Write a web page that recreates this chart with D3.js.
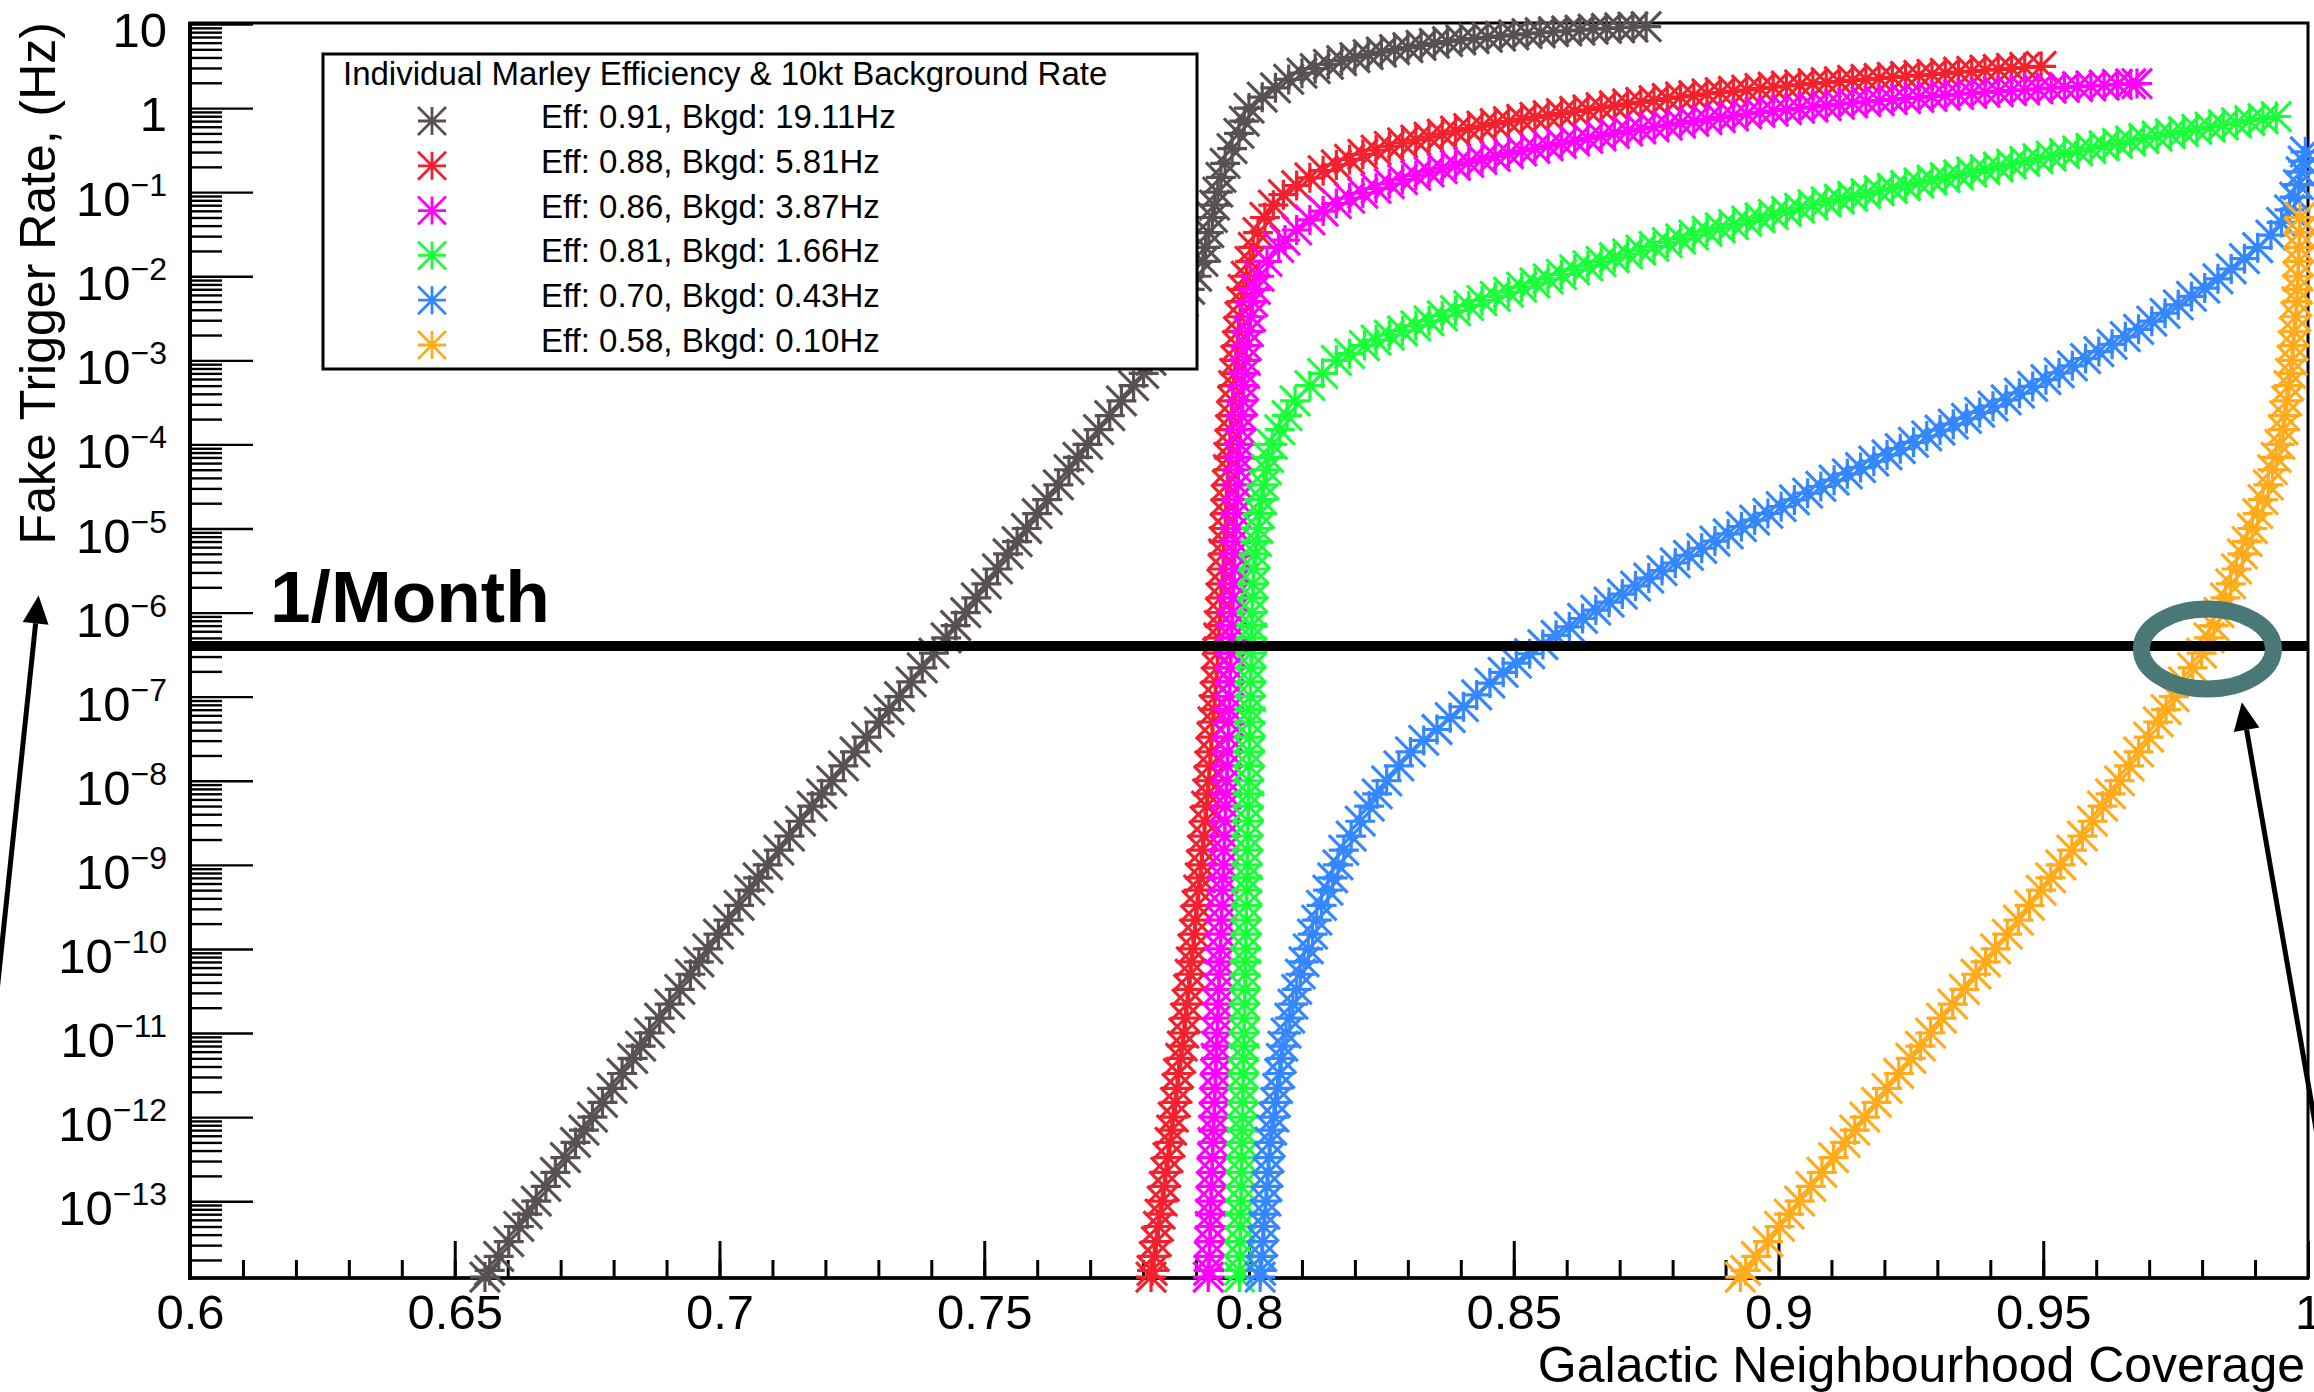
<!DOCTYPE html>
<html>
<head>
<meta charset="utf-8">
<script src="https://cdn.jsdelivr.net/npm/d3@7"></script>
<style>
  body { margin: 0; background: #fff; }
  svg { display: block; }
</style>
</head>
<body>
<div id="plot"></div>
<script>
// ---- chart values ----
const legendTitle = "Individual Marley Efficiency & 10kt Background Rate";
const seriesLabels = [
  "Eff: 0.91, Bkgd: 19.11Hz",
  "Eff: 0.88, Bkgd: 5.81Hz",
  "Eff: 0.86, Bkgd: 3.87Hz",
  "Eff: 0.81, Bkgd: 1.66Hz",
  "Eff: 0.70, Bkgd: 0.43Hz",
  "Eff: 0.58, Bkgd: 0.10Hz"
];
const seriesColors = ["#595055", "#f3212e", "#ff00ff", "#1aff3a", "#3487ff", "#ffab1c"];

const xTickValues = [0.6, 0.65, 0.7, 0.75, 0.8, 0.85, 0.9, 0.95, 1];
const xTickLabels = ["0.6", "0.65", "0.7", "0.75", "0.8", "0.85", "0.9", "0.95", "1"];
const yTickValues = [10, 1, 1e-1, 1e-2, 1e-3, 1e-4, 1e-5, 1e-6, 1e-7, 1e-8, 1e-9, 1e-10, 1e-11, 1e-12, 1e-13];
const yTickLabels = [["10", ""], ["1", ""], ["10", "\u22121"], ["10", "\u22122"], ["10", "\u22123"],
  ["10", "\u22124"], ["10", "\u22125"], ["10", "\u22126"], ["10", "\u22127"], ["10", "\u22128"],
  ["10", "\u22129"], ["10", "\u221210"], ["10", "\u221211"], ["10", "\u221212"], ["10", "\u221213"]];

const monthRate = 4.0e-7;   // "1/Month" line, Hz

// [coverage, fake trigger rate (Hz)]
const grey = [
  [0.6557,1.25e-14],[0.6566,1.5e-14],[0.6583,2.2e-14],[0.6602,3.3e-14],[0.6621,5e-14],[0.6637,7e-14],
  [0.6654,1e-13],[0.6672,1.5e-13],[0.6690,2.2e-13],[0.6709,3.3e-13],[0.6728,5e-13],[0.6744,7e-13],
  [0.6760,1e-12],[0.6779,1.5e-12],[0.6797,2.2e-12],[0.6816,3.3e-12],[0.6836,5e-12],[0.6851,7e-12],
  [0.6868,1e-11],[0.6887,1.5e-11],[0.6906,2.2e-11],[0.6925,3.3e-11],[0.6945,5e-11],[0.6961,7e-11],
  [0.6978,1e-10],[0.6998,1.5e-10],[0.7017,2.2e-10],[0.7037,3.3e-10],[0.7057,5e-10],[0.7073,7e-10],
  [0.7091,1e-9],[0.7112,1.5e-9],[0.7132,2.2e-9],[0.7153,3.3e-9],[0.7175,5e-9],[0.7193,7e-9],
  [0.7212,1e-8],[0.7234,1.5e-8],[0.7256,2.2e-8],[0.7278,3.3e-8],[0.7302,5e-8],[0.7320,7e-8],
  [0.7340,1e-7],[0.7362,1.5e-7],[0.7383,2.2e-7],[0.7405,3.3e-7],[0.7428,5e-7],[0.7446,7e-7],
  [0.7465,1e-6],[0.7485,1.5e-6],[0.7504,2.2e-6],[0.7525,3.3e-6],[0.7545,5e-6],[0.7562,7e-6],
  [0.7580,1e-5],[0.7600,1.5e-5],[0.7619,2.2e-5],[0.7640,3.3e-5],[0.7660,5e-5],[0.7677,7e-5],
  [0.7695,1e-4],[0.7716,1.5e-4],[0.7737,2.2e-4],[0.7759,3.3e-4],[0.7782,5e-4],[0.7801,7e-4],
  [0.7815,1e-3],[0.7831,1.5e-3],[0.7844,2.2e-3],[0.7860,3.3e-3],[0.7876,5e-3],[0.7888,7e-3],
  [0.7901,1e-2],[0.7913,1.5e-2],[0.7918,2.2e-2],[0.7924,3.3e-2],[0.7931,5e-2],[0.7935,7e-2],
  [0.7941,0.1],[0.7947,0.15],[0.7955,0.22],[0.7968,0.33],[0.7981,0.5],[0.7991,0.7],
  [0.8000,1.0],[0.8025,1.35],[0.8050,1.74],[0.8075,2.19],[0.8100,2.6],[0.8125,2.95],[0.8150,3.31],
  [0.8175,3.67],[0.8200,3.98],[0.8225,4.32],[0.8250,4.62],[0.8275,4.95],[0.8300,5.25],[0.8325,5.56],
  [0.8350,5.89],[0.8375,6.17],[0.8400,6.46],[0.8425,6.70],[0.8450,6.95],[0.8475,7.19],[0.8500,7.43],
  [0.8525,7.66],[0.8550,7.87],[0.8575,8.09],[0.8600,8.28],[0.8625,8.47],[0.8650,8.67],[0.8675,8.85],
  [0.8700,9.02],[0.8725,9.18],[0.8750,9.33]
];
const red = [
  [0.7815,1.25e-14],[0.7817,1.5e-14],[0.7821,2.2e-14],[0.7825,3.3e-14],[0.7829,5e-14],[0.7832,7e-14],
  [0.7836,1e-13],[0.7840,1.5e-13],[0.7843,2.2e-13],[0.7847,3.3e-13],[0.7851,5e-13],[0.7854,7e-13],
  [0.7857,1e-12],[0.7861,1.5e-12],[0.7864,2.2e-12],[0.7867,3.3e-12],[0.7871,5e-12],[0.7874,7e-12],
  [0.7877,1e-11],[0.7880,1.5e-11],[0.7883,2.2e-11],[0.7886,3.3e-11],[0.7889,5e-11],[0.7891,7e-11],
  [0.7894,1e-10],[0.7897,1.5e-10],[0.7899,2.2e-10],[0.7902,3.3e-10],[0.7905,5e-10],[0.7908,7e-10],
  [0.7910,1e-9],[0.7912,1.5e-9],[0.7915,2.2e-9],[0.7917,3.3e-9],[0.7920,5e-9],[0.7922,7e-9],
  [0.7924,1e-8],[0.7926,1.5e-8],[0.7928,2.2e-8],[0.7930,3.3e-8],[0.7932,5e-8],[0.7934,7e-8],
  [0.7936,1e-7],[0.7938,1.5e-7],[0.7940,2.2e-7],[0.7941,3.3e-7],[0.7943,5e-7],[0.7944,7e-7],
  [0.7946,1e-6],[0.7947,1.5e-6],[0.7949,2.2e-6],[0.7951,3.3e-6],[0.7952,5e-6],[0.7953,7e-6],
  [0.7955,1e-5],[0.7956,1.5e-5],[0.7957,2.2e-5],[0.7959,3.3e-5],[0.7961,5e-5],[0.7962,7e-5],
  [0.7964,1e-4],[0.7965,1.5e-4],[0.7967,2.2e-4],[0.7969,3.3e-4],[0.7971,5e-4],[0.7973,7e-4],
  [0.7975,1e-3],[0.7978,1.5e-3],[0.7980,2.2e-3],[0.7983,3.3e-3],[0.7986,5e-3],[0.7989,7e-3],
  [0.7995,1e-2],[0.8002,1.5e-2],[0.8008,2.2e-2],[0.8017,3.3e-2],[0.8030,5e-2],[0.8046,7e-2],
  [0.8065,0.0933],[0.8090,0.120],[0.8115,0.148],[0.8140,0.180],[0.8165,0.211],[0.8190,0.245],
  [0.8215,0.282],[0.8240,0.316],[0.8265,0.351],[0.8290,0.385],[0.8315,0.417],[0.8340,0.452],
  [0.8365,0.490],[0.8390,0.531],[0.8415,0.569],[0.8440,0.610],[0.8465,0.653],[0.8490,0.692],
  [0.8515,0.733],[0.8540,0.776],[0.8565,0.813],[0.8590,0.861],[0.8615,0.912],[0.8640,0.955],
  [0.8665,1.01],[0.8690,1.06],[0.8715,1.12],[0.8740,1.17],[0.8765,1.23],[0.8790,1.30],
  [0.8815,1.36],[0.8840,1.41],[0.8865,1.48],[0.8890,1.53],[0.8915,1.58],[0.8940,1.64],
  [0.8965,1.71],[0.8990,1.77],[0.9015,1.83],[0.9040,1.89],[0.9065,1.95],[0.9090,2.01],
  [0.9115,2.07],[0.9140,2.13],[0.9165,2.20],[0.9190,2.26],[0.9215,2.32],[0.9240,2.39],
  [0.9265,2.45],[0.9290,2.52],[0.9315,2.59],[0.9340,2.67],[0.9365,2.74],[0.9390,2.82],
  [0.9415,2.89],[0.9440,2.96],[0.9465,3.04],[0.9496,3.13]
];
const magenta = [
  [0.7923,1.25e-14],[0.7924,1.5e-14],[0.7925,2.2e-14],[0.7926,3.3e-14],[0.7927,5e-14],[0.7927,7e-14],
  [0.7928,1e-13],[0.7929,1.5e-13],[0.7930,2.2e-13],[0.7931,3.3e-13],[0.7932,5e-13],[0.7933,7e-13],
  [0.7934,1e-12],[0.7935,1.5e-12],[0.7936,2.2e-12],[0.7937,3.3e-12],[0.7938,5e-12],[0.7939,7e-12],
  [0.7940,1e-11],[0.7941,1.5e-11],[0.7942,2.2e-11],[0.7943,3.3e-11],[0.7944,5e-11],[0.7945,7e-11],
  [0.7946,1e-10],[0.7947,1.5e-10],[0.7948,2.2e-10],[0.7949,3.3e-10],[0.7950,5e-10],[0.7951,7e-10],
  [0.7952,1e-9],[0.7953,1.5e-9],[0.7954,2.2e-9],[0.7955,3.3e-9],[0.7956,5e-9],[0.7957,7e-9],
  [0.7958,1e-8],[0.7959,1.5e-8],[0.7960,2.2e-8],[0.7961,3.3e-8],[0.7962,5e-8],[0.7963,7e-8],
  [0.7963,1e-7],[0.7964,1.5e-7],[0.7965,2.2e-7],[0.7966,3.3e-7],[0.7967,5e-7],[0.7968,7e-7],
  [0.7969,1e-6],[0.7970,1.5e-6],[0.7971,2.2e-6],[0.7972,3.3e-6],[0.7973,5e-6],[0.7974,7e-6],
  [0.7975,1e-5],[0.7976,1.5e-5],[0.7978,2.2e-5],[0.7979,3.3e-5],[0.7980,5e-5],[0.7981,7e-5],
  [0.7983,1e-4],[0.7984,1.5e-4],[0.7986,2.2e-4],[0.7988,3.3e-4],[0.7990,5e-4],[0.7992,7e-4],
  [0.7993,1e-3],[0.7995,1.5e-3],[0.7999,2.2e-3],[0.8003,3.3e-3],[0.8007,5e-3],[0.8012,7e-3],
  [0.8019,1e-2],[0.8034,1.5e-2],[0.8056,2.2e-2],
  [0.8068,0.0269],[0.8090,0.0355],[0.8115,0.0468],[0.8140,0.0596],[0.8165,0.0733],[0.8190,0.0851],
  [0.8215,0.0977],[0.8240,0.111],[0.8265,0.126],[0.8290,0.141],[0.8315,0.158],[0.8340,0.174],
  [0.8365,0.191],[0.8390,0.209],[0.8415,0.226],[0.8440,0.245],[0.8465,0.266],[0.8490,0.288],
  [0.8515,0.309],[0.8540,0.331],[0.8565,0.355],[0.8590,0.380],[0.8615,0.407],[0.8640,0.437],
  [0.8665,0.468],[0.8690,0.501],[0.8715,0.533],[0.8740,0.565],[0.8765,0.596],[0.8790,0.628],
  [0.8815,0.661],[0.8840,0.695],[0.8865,0.731],[0.8890,0.769],[0.8915,0.809],[0.8940,0.851],
  [0.8965,0.887],[0.8990,0.923],[0.9015,0.959],[0.9040,0.995],[0.9065,1.03],[0.9090,1.07],
  [0.9115,1.11],[0.9140,1.15],[0.9165,1.19],[0.9190,1.23],[0.9215,1.26],[0.9240,1.30],
  [0.9265,1.34],[0.9290,1.38],[0.9315,1.42],[0.9340,1.46],[0.9365,1.50],[0.9390,1.54],
  [0.9415,1.57],[0.9440,1.61],[0.9465,1.65],[0.9490,1.69],[0.9515,1.73],[0.9540,1.76],
  [0.9565,1.80],[0.9590,1.84],[0.9615,1.87],[0.9640,1.91],[0.9665,1.94],[0.9677,1.96]
];
const green = [
  [0.7982,1.25e-14],[0.7982,1.5e-14],[0.7983,2.2e-14],[0.7983,3.3e-14],[0.7984,5e-14],[0.7984,7e-14],
  [0.7985,1e-13],[0.7985,1.5e-13],[0.7986,2.2e-13],[0.7986,3.3e-13],[0.7987,5e-13],[0.7987,7e-13],
  [0.7988,1e-12],[0.7988,1.5e-12],[0.7989,2.2e-12],[0.7989,3.3e-12],[0.7990,5e-12],[0.7990,7e-12],
  [0.7991,1e-11],[0.7991,1.5e-11],[0.7992,2.2e-11],[0.7992,3.3e-11],[0.7993,5e-11],[0.7993,7e-11],
  [0.7994,1e-10],[0.7994,1.5e-10],[0.7995,2.2e-10],[0.7995,3.3e-10],[0.7996,5e-10],[0.7996,7e-10],
  [0.7997,1e-9],[0.7997,1.5e-9],[0.7998,2.2e-9],[0.7998,3.3e-9],[0.7999,5e-9],[0.7999,7e-9],
  [0.8000,1e-8],[0.8000,1.5e-8],[0.8001,2.2e-8],[0.8001,3.3e-8],[0.8002,5e-8],[0.8002,7e-8],
  [0.8003,1e-7],[0.8003,1.5e-7],[0.8004,2.2e-7],[0.8004,3.3e-7],[0.8005,5e-7],[0.8005,7e-7],
  [0.8006,1e-6],[0.8007,1.5e-6],[0.8008,2.2e-6],[0.8009,3.3e-6],[0.8012,5e-6],[0.8014,7e-6],
  [0.8017,1e-5],[0.8020,1.5e-5],[0.8024,2.2e-5],[0.8028,3.3e-5],[0.8033,5e-5],[0.8037,7e-5],
  [0.8044,1e-4],[0.8058,1.5e-4],[0.8072,2.2e-4],[0.8087,3.3e-4],[0.8115,5e-4],[0.8139,7e-4],
  [0.8165,1e-3],[0.8190,1.2e-3],[0.8218,1.5e-3],[0.8240,1.74e-3],[0.8265,2.0e-3],
  [0.8290,2.24e-3],[0.8315,2.57e-3],[0.8340,2.95e-3],[0.8365,3.39e-3],[0.8390,3.89e-3],
  [0.8415,4.47e-3],[0.8440,5.13e-3],[0.8465,5.75e-3],[0.8490,6.46e-3],[0.8515,7.41e-3],
  [0.8540,8.32e-3],[0.8565,9.33e-3],[0.8590,1.05e-2],[0.8615,1.19e-2],[0.8640,1.33e-2],
  [0.8665,1.50e-2],[0.8690,1.66e-2],[0.8715,1.84e-2],[0.8740,2.04e-2],[0.8765,2.26e-2],
  [0.8790,2.51e-2],[0.8815,2.79e-2],[0.8840,3.09e-2],[0.8865,3.43e-2],[0.8890,3.76e-2],
  [0.8915,4.12e-2],[0.8940,4.52e-2],[0.8965,4.95e-2],[0.8990,5.43e-2],[0.9015,5.92e-2],
  [0.9040,6.46e-2],[0.9065,7.05e-2],[0.9090,7.67e-2],[0.9115,8.28e-2],[0.9140,8.91e-2],
  [0.9165,9.62e-2],[0.9190,0.104],[0.9215,0.111],[0.9240,0.120],[0.9265,0.129],[0.9290,0.139],
  [0.9315,0.149],[0.9340,0.161],[0.9365,0.173],[0.9390,0.186],[0.9415,0.200],[0.9440,0.216],
  [0.9465,0.232],[0.9490,0.250],[0.9515,0.269],[0.9540,0.288],[0.9565,0.309],[0.9590,0.331],
  [0.9615,0.355],[0.9640,0.380],[0.9665,0.407],[0.9690,0.435],[0.9715,0.463],[0.9740,0.494],
  [0.9765,0.526],[0.9790,0.560],[0.9815,0.594],[0.9840,0.631],[0.9865,0.668],[0.9890,0.708],
  [0.9915,0.748],[0.9940,0.794]
];
const blue = [
  [0.8021,1.25e-14],[0.8022,1.5e-14],[0.8024,2.2e-14],[0.8026,3.3e-14],[0.8028,5e-14],[0.8030,7e-14],
  [0.8032,1e-13],[0.8034,1.5e-13],[0.8036,2.2e-13],[0.8038,3.3e-13],[0.8040,5e-13],[0.8043,7e-13],
  [0.8047,1e-12],[0.8050,1.5e-12],[0.8054,2.2e-12],[0.8058,3.3e-12],[0.8061,5e-12],[0.8064,7e-12],
  [0.8070,1e-11],[0.8077,1.5e-11],[0.8083,2.2e-11],[0.8090,3.3e-11],[0.8097,5e-11],[0.8104,7e-11],
  [0.8112,1e-10],[0.8120,1.5e-10],[0.8128,2.2e-10],[0.8137,3.3e-10],[0.8149,5e-10],[0.8158,7e-10],
  [0.8168,1e-9],[0.8179,1.5e-9],[0.8193,2.2e-9],[0.8210,3.3e-9],[0.8227,5e-9],[0.8242,7e-9],
  [0.8260,1e-8],[0.8283,1.5e-8],[0.8305,2.2e-8],
  [0.8330,3.02e-8],[0.8355,4.07e-8],[0.8380,5.62e-8],[0.8405,7.59e-8],[0.8430,1.05e-7],
  [0.8455,1.45e-7],[0.8480,1.95e-7],[0.8505,2.51e-7],[0.8530,3.24e-7],[0.8555,4.17e-7],
  [0.8580,5.37e-7],[0.8605,6.76e-7],[0.8630,8.51e-7],[0.8655,1.07e-6],[0.8680,1.33e-6],
  [0.8705,1.66e-6],[0.8730,2.07e-6],[0.8755,2.57e-6],[0.8780,3.16e-6],[0.8805,3.89e-6],
  [0.8830,4.79e-6],[0.8855,5.82e-6],[0.8880,7.08e-6],[0.8905,8.61e-6],[0.8930,1.05e-5],
  [0.8955,1.26e-5],[0.8980,1.51e-5],[0.9005,1.82e-5],[0.9030,2.19e-5],[0.9055,2.63e-5],
  [0.9080,3.16e-5],[0.9105,3.76e-5],[0.9130,4.47e-5],[0.9155,5.31e-5],[0.9180,6.31e-5],
  [0.9205,7.50e-5],[0.9230,8.91e-5],[0.9255,1.06e-4],[0.9280,1.26e-4],[0.9305,1.48e-4],
  [0.9330,1.74e-4],[0.9355,2.04e-4],[0.9380,2.40e-4],[0.9405,2.85e-4],[0.9430,3.39e-4],
  [0.9455,4.07e-4],[0.9480,4.90e-4],[0.9505,5.89e-4],[0.9530,7.08e-4],[0.9555,8.61e-4],
  [0.9580,1.05e-3],[0.9605,1.27e-3],[0.9630,1.55e-3],[0.9655,1.91e-3],[0.9680,2.34e-3],
  [0.9705,2.92e-3],[0.9730,3.63e-3],[0.9755,4.57e-3],[0.9780,5.75e-3],[0.9805,7.24e-3],
  [0.9830,9.33e-3],[0.9855,1.22e-2],[0.9880,1.62e-2],[0.9905,2.19e-2],[0.9930,3.09e-2],
  [0.9950,4.37e-2],[0.9965,6.17e-2],[0.9975,8.71e-2],[0.9982,0.123],[0.9987,0.174],
  [0.9991,0.234],[0.9995,0.302]
];
const orange = [
  [0.8928,1.25e-14],[0.8938,1.5e-14],[0.8958,2.2e-14],[0.8980,3.3e-14],[0.9002,5e-14],[0.9020,7e-14],
  [0.9040,1e-13],[0.9061,1.5e-13],[0.9082,2.2e-13],[0.9104,3.3e-13],[0.9126,5e-13],[0.9144,7e-13],
  [0.9163,1e-12],[0.9185,1.5e-12],[0.9205,2.2e-12],[0.9227,3.3e-12],[0.9250,5e-12],[0.9268,7e-12],
  [0.9287,1e-11],[0.9308,1.5e-11],[0.9329,2.2e-11],[0.9351,3.3e-11],[0.9373,5e-11],[0.9391,7e-11],
  [0.9410,1e-10],[0.9432,1.5e-10],[0.9453,2.2e-10],[0.9474,3.3e-10],[0.9496,5e-10],[0.9514,7e-10],
  [0.9533,1e-9],[0.9554,1.5e-9],[0.9574,2.2e-9],[0.9593,3.3e-9],[0.9612,5e-9],[0.9627,7e-9],
  [0.9644,1e-8],[0.9662,1.5e-8],[0.9680,2.2e-8],[0.9699,3.3e-8],[0.9717,5e-8],[0.9732,7e-8],
  [0.9747,1e-7],[0.9765,1.5e-7],[0.9782,2.2e-7],[0.9799,3.3e-7],[0.9813,5e-7],[0.9822,7e-7],
  [0.9832,1e-6],[0.9844,1.5e-6],[0.9854,2.2e-6],[0.9865,3.3e-6],[0.9876,5e-6],[0.9885,7e-6],
  [0.9895,1e-5],[0.9905,1.5e-5],[0.9915,2.2e-5],[0.9925,3.3e-5],[0.9933,5e-5],[0.9940,7e-5],
  [0.9947,1e-4],[0.9953,1.5e-4],[0.9956,2.2e-4],[0.9960,3.3e-4],[0.9964,5e-4],[0.9967,7e-4],
  [0.9970,1e-3],[0.9972,1.5e-3],[0.9974,2.2e-3],[0.9977,3.3e-3],[0.9979,5e-3],[0.9980,7e-3],
  [0.9981,1e-2],[0.9982,1.5e-2],[0.9983,2.2e-2],[0.9984,3.3e-2],[0.9985,5e-2]
];
const allSeries = [grey, red, magenta, green, blue, orange];

// annotation anchors in data coordinates
const ringCenter = [0.981, 3.7e-7];
const arrows = [
  { from: [0.5633, 2.2e-11], to: [0.5714, 1.6e-6] },
  { from: [1.0045, 6e-14], to: [0.9875, 8.6e-8] }
];

// ---- layout ----
const W = 2314, H = 1392;
const margin = { top: 24, right: 6, bottom: 114, left: 190 };
const FONT = '"Liberation Sans", Arial, Helvetica, sans-serif';

const svg = d3.select("#plot").append("svg")
  .attr("width", W).attr("height", H)
  .attr("font-family", FONT);

svg.append("rect").attr("width", W).attr("height", H).attr("fill", "#fff");

const x = d3.scaleLinear().domain([0.6, 1.0]).range([margin.left, W - margin.right]);
const y = d3.scaleLog().domain([1.22e-14, 10]).range([H - margin.bottom, margin.top]);

const x0 = x.range()[0], x1 = x.range()[1];
const yBot = y.range()[0], yTop = y.range()[1];

// frame
svg.append("rect")
  .attr("x", x0).attr("y", yTop - 1)
  .attr("width", x1 - x0).attr("height", yBot - yTop + 1)
  .attr("fill", "none").attr("stroke", "#000").attr("stroke-width", 3);

// x axis ticks (inside, pointing up)
const xMinorAxis = svg.append("g")
  .attr("transform", `translate(0,${yBot})`)
  .call(d3.axisBottom(x).tickValues(x.ticks(40)).tickSize(-18).tickFormat(() => ""));
const xAxis = svg.append("g")
  .attr("transform", `translate(0,${yBot})`)
  .call(d3.axisBottom(x).tickValues(xTickValues).tickSize(-37).tickPadding(16)
    .tickFormat((d, i) => xTickLabels[i]));
[xMinorAxis, xAxis].forEach(a => {
  a.select(".domain").remove();
  a.selectAll("line").attr("stroke", "#000").attr("stroke-width", 3);
});
xAxis.attr("font-size", 49).attr("font-family", FONT);
xAxis.selectAll("text").attr("fill", "#000");

// y axis ticks (inside, pointing right)
const yMinor = y.ticks(20).filter(v => !yTickValues.some(t => Math.abs(t / v - 1) < 1e-6));
const yMinorAxis = svg.append("g")
  .attr("transform", `translate(${x0},0)`)
  .call(d3.axisRight(y).tickValues(yMinor).tickSize(32).tickFormat(() => ""));
const yMajorAxis = svg.append("g")
  .attr("transform", `translate(${x0},0)`)
  .call(d3.axisRight(y).tickValues(yTickValues).tickSize(63).tickFormat(() => ""));
[yMinorAxis, yMajorAxis].forEach(a => {
  a.select(".domain").remove();
  a.selectAll("line").attr("stroke", "#000").attr("stroke-width", 2.4);
});

// y tick labels, ROOT style 10^{-n}
yTickValues.forEach((v, i) => {
  const [base, exp] = yTickLabels[i];
  const t = svg.append("text")
    .attr("x", x0 - 23)
    .attr("y", y(v) + (exp ? 24 : 23))
    .attr("text-anchor", "end")
    .attr("font-size", 49)
    .attr("fill", "#000");
  t.append("tspan").text(base);
  if (exp) t.append("tspan").attr("dy", -20).attr("font-size", 32).text(exp);
});

// axis lines drawn heavier like the reference
svg.append("line").attr("x1", x0).attr("x2", x0).attr("y1", yTop - 2).attr("y2", yBot + 2)
  .attr("stroke", "#000").attr("stroke-width", 4);
svg.append("line").attr("x1", x0 - 2).attr("x2", x1 + 1).attr("y1", yBot).attr("y2", yBot)
  .attr("stroke", "#000").attr("stroke-width", 3.5);

// axis titles
svg.append("text")
  .attr("x", W - 9).attr("y", 1382)
  .attr("text-anchor", "end").attr("font-size", 50).attr("fill", "#000")
  .text("Galactic Neighbourhood Coverage");
svg.append("text")
  .attr("transform", "translate(55,22) rotate(-90)")
  .attr("text-anchor", "end").attr("font-size", 50).attr("fill", "#000")
  .text("Fake Trigger Rate, (Hz)");

// asterisk marker (ROOT style 3)
const starPath = s => `M${-s},0H${s}M0,${-s}V${s}M${-s},${-s}L${s},${s}M${-s},${s}L${s},${-s}`;
const star = starPath(15);

// series
allSeries.forEach((pts, i) => {
  svg.append("g")
    .attr("stroke", seriesColors[i]).attr("stroke-width", 3.2).attr("fill", "none")
    .selectAll("path")
    .data(pts)
    .join("path")
    .attr("transform", d => `translate(${x(d[0])},${y(d[1])})`)
    .attr("d", star);
});

// 1/Month line and label
svg.append("line")
  .attr("x1", x0).attr("x2", x1)
  .attr("y1", y(monthRate)).attr("y2", y(monthRate))
  .attr("stroke", "#000").attr("stroke-width", 10);
svg.append("text")
  .attr("x", x0 + 80).attr("y", y(monthRate) - 24)
  .attr("font-size", 73).attr("font-weight", "bold").attr("fill", "#000")
  .text("1/Month");

// legend
const lg = svg.append("g");
lg.append("rect")
  .attr("x", 323).attr("y", 54).attr("width", 874).attr("height", 315)
  .attr("fill", "#fff").attr("stroke", "#000").attr("stroke-width", 3);
lg.append("text")
  .attr("x", 343).attr("y", 85)
  .attr("font-size", 33).attr("fill", "#000")
  .text(legendTitle);
seriesLabels.forEach((lab, i) => {
  const yy = 128 + i * 44.8;
  lg.append("path")
    .attr("transform", `translate(432,${yy - 7})`)
    .attr("d", starPath(14))
    .attr("stroke", seriesColors[i]).attr("stroke-width", 2.8).attr("fill", "none");
  lg.append("text")
    .attr("x", 541).attr("y", yy)
    .attr("font-size", 33).attr("fill", "#000")
    .text(lab);
});

// highlight ring
svg.append("ellipse")
  .attr("cx", x(ringCenter[0])).attr("cy", y(ringCenter[1]))
  .attr("rx", 66).attr("ry", 40)
  .attr("fill", "none").attr("stroke", "#4a7876").attr("stroke-width", 17);

// arrows
arrows.forEach(a => {
  const [fx, fy] = [x(a.from[0]), y(a.from[1])];
  const [tx, ty] = [x(a.to[0]), y(a.to[1])];
  const ang = Math.atan2(ty - fy, tx - fx);
  const L = 28, Wd = 13;
  const bx = tx - L * Math.cos(ang), by = ty - L * Math.sin(ang);
  svg.append("line")
    .attr("x1", fx).attr("y1", fy).attr("x2", bx).attr("y2", by)
    .attr("stroke", "#000").attr("stroke-width", 5);
  const px = -Math.sin(ang) * Wd, py = Math.cos(ang) * Wd;
  svg.append("path")
    .attr("d", `M${tx},${ty}L${bx + px},${by + py}L${bx - px},${by - py}Z`)
    .attr("fill", "#000");
});
</script>
</body>
</html>
